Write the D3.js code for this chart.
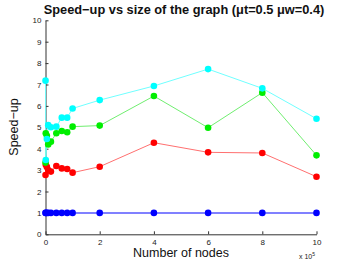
<!DOCTYPE html>
<html><head><meta charset="utf-8">
<script src="https://cdn.jsdelivr.net/npm/d3@7"></script>
<style>body{margin:0;background:#fff}svg{display:block}text{font-family:"Liberation Sans",Arial,sans-serif}</style>
</head><body>
<script>
const xValues = [0.001, 0.01, 0.05, 0.1, 0.2, 0.4, 0.6, 0.8, 1, 2, 4, 6, 8, 10];
const blueValues  = [1.0, 1.0, 1.0, 1.0, 1.0, 1.0, 1.0, 1.0, 1.0, 1.0, 1.0, 1.0, 1.0, 1.0];
const redValues   = [2.77, 3.25, 3.15, 3.0, 2.93, 3.19, 3.08, 3.05, 2.88, 3.16, 4.28, 3.83, 3.80, 2.69];
const greenValues = [3.35, 4.72, 4.6, 4.2, 4.33, 4.72, 4.83, 4.77, 5.03, 5.08, 6.46, 4.98, 6.62, 3.69];
const cyanValues  = [7.18, 3.47, 4.45, 5.1, 5.0, 5.03, 5.45, 5.45, 5.88, 6.27, 6.93, 7.72, 6.82, 5.40];
const xTicks = [0, 2, 4, 6, 8, 10];
const yTicks = [0, 1, 2, 3, 4, 5, 6, 7, 8, 9, 10];

const series = [
  {values: blueValues, dot: "#0000ff", line: "#8080ff", w: 2},
  {values: redValues, dot: "#ff0000", line: "#ff7070", w: 1},
  {values: greenValues, dot: "#00ee00", line: "#70ee70", w: 1},
  {values: cyanValues, dot: "#00ffff", line: "#70ffff", w: 1}
];

const W = 350, H = 264;
const svg = d3.select("body").append("svg").attr("width", W).attr("height", H);
const x = d3.scaleLinear().domain([0, 10]).range([45.5, 316.5]);
const y = d3.scaleLinear().domain([0, 10]).range([234.3, 20.3]);

const ax = svg.append("g").attr("transform", `translate(0,${y(0)})`)
  .call(d3.axisBottom(x).tickValues(xTicks).tickSizeInner(-3).tickSizeOuter(0).tickPadding(5));
const ay = svg.append("g").attr("transform", `translate(${x(0)},0)`)
  .call(d3.axisLeft(y).tickValues(yTicks).tickSizeInner(-3).tickSizeOuter(0).tickPadding(4));
[ax, ay].forEach(g => {
  g.select(".domain").attr("stroke", "#333");
  g.selectAll(".tick line").attr("stroke", "#333");
  g.selectAll(".tick text").attr("fill", "#222").style("font-size", "8px");
});

const line = d3.line().x((d, i) => x(xValues[i])).y(d => y(d));
series.forEach(s => {
  svg.append("path").datum(s.values).attr("d", line)
    .attr("fill", "none").attr("stroke", s.line).attr("stroke-width", s.w);
});
series.forEach(s => {
  svg.append("g").selectAll("circle").data(s.values).join("circle")
    .attr("cx", (d, i) => x(xValues[i])).attr("cy", d => y(d)).attr("r", 3.3)
    .attr("fill", s.dot);
});

svg.append("text").attr("x", 184).attr("y", 14).attr("text-anchor", "middle")
  .style("font-size", "12.8px").style("font-weight", "bold").attr("fill", "#111")
  .text("Speed−up vs size of the graph (μt=0.5 μw=0.4)");
svg.append("text").attr("transform", "translate(18,127) rotate(-90)").attr("text-anchor", "middle")
  .style("font-size", "12.5px").attr("fill", "#111").text("Speed−up");
svg.append("text").attr("x", 181).attr("y", 257).attr("text-anchor", "middle")
  .style("font-size", "12.5px").attr("fill", "#111").text("Number of nodes");
const e = svg.append("text").attr("x", 299).attr("y", 259).style("font-size", "7px").attr("fill", "#222");
e.append("tspan").text("x 10");
e.append("tspan").attr("dy", -3).style("font-size", "5px").text("5");
</script>
</body></html>
